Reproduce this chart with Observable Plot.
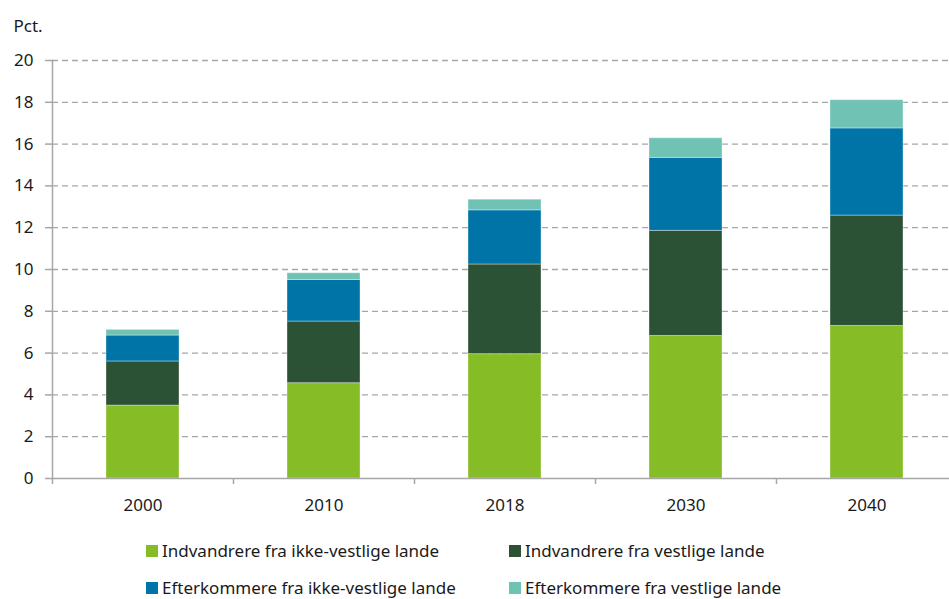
<!DOCTYPE html>
<html>
<head>
<meta charset="utf-8">
<script src="https://cdn.jsdelivr.net/npm/d3@7"></script>
<script src="https://cdn.jsdelivr.net/npm/@observablehq/plot@0.6"></script>
<style>
  html, body { margin: 0; padding: 0; background: #fff; overflow: hidden; }
  #wrap { position: relative; width: 949px; height: 599px; font-family: "Noto Sans", sans-serif; color: #1a1a1a; }
  #legend { position: absolute; left: 0; top: 0; width: 949px; height: 599px; pointer-events: none; }
  .item { position: absolute; font-size: 17px; line-height: 20px; white-space: nowrap; display: flex; align-items: center; }
  .sw { width: 12px; height: 12px; margin-right: 4px; display: inline-block; }
</style>
</head>
<body>
<div id="wrap"><div id="chart"></div><div id="legend"></div></div>
<script>
const years = ["2000", "2010", "2018", "2030", "2040"];
const seriesNames = [
  "Indvandrere fra ikke-vestlige lande",
  "Indvandrere fra vestlige lande",
  "Efterkommere fra ikke-vestlige lande",
  "Efterkommere fra vestlige lande"
];
const seriesColors = ["#86bc25", "#2b5234", "#0074a6", "#6fc2b4"];
const indvIkkeVestlige = [3.49, 4.56, 5.95, 6.82, 7.30];
const indvVestlige     = [2.11, 2.95, 4.29, 5.03, 5.28];
const efterIkkeVestlige = [1.24, 1.99, 2.59, 3.49, 4.17];
const efterVestlige    = [0.27, 0.32, 0.51, 0.94, 1.35];
const yTicks = [0, 2, 4, 6, 8, 10, 12, 14, 16, 18, 20];

const seriesValues = [indvIkkeVestlige, indvVestlige, efterIkkeVestlige, efterVestlige];
const data = [];
seriesNames.forEach((s, si) => years.forEach((y, yi) => data.push({year: y, series: s, value: seriesValues[si][yi]})));

const W = 949, H = 522;
const chart = Plot.plot({
  width: W, height: H,
  marginLeft: 52, marginRight: 0, marginTop: 60, marginBottom: 44,
  style: {fontFamily: "'Noto Sans', sans-serif", fontSize: "17px", color: "#1a1a1a", background: "#fff"},
  x: {domain: years, range: [52, 957], padding: 0, axis: null},
  y: {domain: [0, 20], axis: null},
  color: {domain: seriesNames, range: seriesColors},
  marks: [
    Plot.gridY(yTicks.filter(d => d > 0), {stroke: "#a6a6a6", strokeOpacity: 1, strokeDasharray: "6,4", strokeWidth: 1.3}),
    Plot.barY(data, {x: "year", y: "value", fill: "series", order: seriesNames, insetLeft: 54, insetRight: 54, stroke: "#ffffff", strokeOpacity: 0.35, strokeWidth: 1}),
    Plot.ruleY([0], {stroke: "#a6a6a6", strokeWidth: 1.5}),
    Plot.frame({anchor: "left", stroke: "#a6a6a6", strokeWidth: 1.5}),
    Plot.axisY({ticks: yTicks, tickSize: 7, tickPadding: 12, stroke: "#a6a6a6", strokeWidth: 1.5, fill: "#1a1a1a", fontSize: 17, label: null}),
    Plot.axisX({ticks: years, tickSize: 6, text: null, dx: -90.5, stroke: "#a6a6a6", strokeWidth: 1.5, label: null}),
    Plot.axisX({ticks: years, tickSize: 0, tickPadding: 20, fill: "#1a1a1a", fontSize: 17, label: null}),
    Plot.text(["Pct."], {frameAnchor: "top-left", dx: -39, dy: -41, textAnchor: "start", fontSize: 17, fill: "#1a1a1a"})
  ]
});
document.getElementById("chart").appendChild(chart);

const legend = document.getElementById("legend");
const pos = [[146, 541], [509, 541], [146, 578], [509, 578]];
seriesNames.forEach((s, i) => {
  const el = document.createElement("div");
  el.className = "item";
  el.style.left = pos[i][0] + "px";
  el.style.top = pos[i][1] + "px";
  el.innerHTML = `<span class="sw" style="background:${seriesColors[i]}"></span><span>${s}</span>`;
  legend.appendChild(el);
});
</script>
</body>
</html>
